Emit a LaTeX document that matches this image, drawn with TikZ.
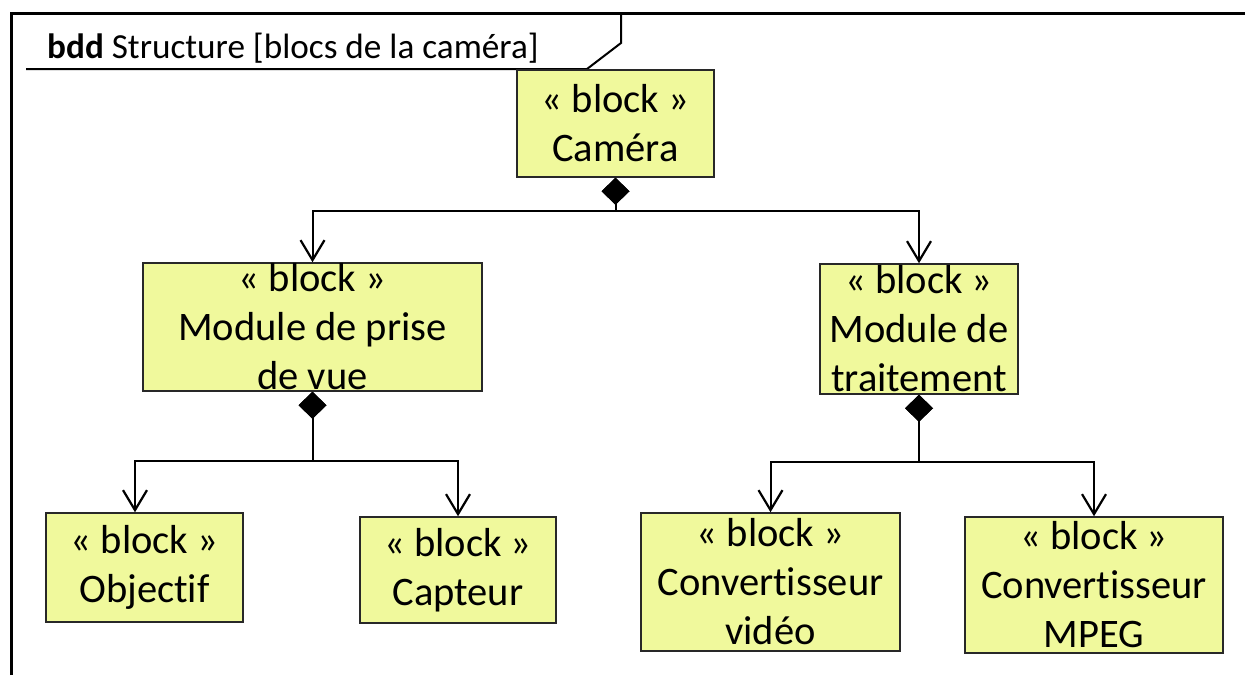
\documentclass[tikz,border=0pt]{standalone}
\usepackage{fontspec}
\setmainfont{Carlito}[Ligatures=NoCommon]
\usetikzlibrary{arrows.meta}
\definecolor{blockfill}{RGB}{240,249,156}
\definecolor{blockline}{RGB}{40,40,40}
\begin{document}
\begin{tikzpicture}[x=1pt,y=-1pt,
  block/.style={draw=blockline, line width=1.5pt, fill=blockfill, inner sep=0pt},
  blocktext/.style={font=\fontsize{40.5}{49}\selectfont, align=center, inner sep=0pt},
  comp/.style={line width=2pt,
    {Diamond[length=27pt,width=28pt]}-{Straight Barb[length=20pt,width=24pt,line width=2.2pt]}},
  frameline/.style={line width=3pt},
  headline/.style={line width=2pt}
]
\useasboundingbox (0,0) rectangle (1245,675);

% diagram frame and its header tab
\coordinate (ftl) at (11,13);
\coordinate (ftr) at (1245,13);
\coordinate (fbl) at (11,675);
\draw[frameline] (fbl) -- (ftl) -- (ftr);
\coordinate (h1) at (26,69);
\coordinate (h2) at (587,69);
\coordinate (h3) at (621,43);
\coordinate (h4) at (621,13);
\draw[headline] (h1) -- (h2) -- (h3) -- (h4);
\node[anchor=base west, font=\fontsize{35.2}{40}\selectfont, inner sep=0pt] (title) at (47,58)
  {\textbf{bdd} Structure [blocs de la caméra]};

% blocks
\node[block, minimum width=197pt, minimum height=107pt,
  label={[blocktext]center:{« block »\\Caméra}}] (cam) at (615.5,123.5) {};
\node[block, minimum width=339pt, minimum height=128pt,
  label={[blocktext]center:{« block »\\Module de prise\\de vue}}] (mpv) at (312.5,327) {};
\node[block, minimum width=198pt, minimum height=130pt,
  label={[blocktext]center:{« block »\\Module de\\traitement}}] (mt) at (919,329) {};
\node[block, minimum width=197pt, minimum height=109pt,
  label={[blocktext]center:{« block »\\Objectif}}] (obj) at (144.5,567.5) {};
\node[block, minimum width=196pt, minimum height=106pt,
  label={[blocktext]center:{« block »\\Capteur}}] (cap) at (458,570) {};
\node[block, minimum width=259pt, minimum height=138pt,
  label={[blocktext]center:{« block »\\Convertisseur\\vidéo}}] (cv) at (770.5,582) {};
\node[block, minimum width=258pt, minimum height=136pt,
  label={[blocktext]center:{« block »\\Convertisseur\\MPEG}}] (cm) at (1094,585) {};

% composition links
\coordinate (bus1) at (0,211);
\coordinate (bus2) at (0,461);
\coordinate (bus3) at (0,462);
\coordinate (objin) at ([xshift=-9.5pt]obj.north);

\draw[comp] (cam.south) -- (cam.south |- bus1) -| (mpv.north);
\draw[comp] (cam.south) -- (cam.south |- bus1) -| (mt.north);
\draw[comp] (mpv.south) -- (mpv.south |- bus2) -| (objin);
\draw[comp] (mpv.south) -- (mpv.south |- bus2) -| (cap.north);
\draw[comp] (mt.south) -- (mt.south |- bus3) -| (cv.north);
\draw[comp] (mt.south) -- (mt.south |- bus3) -| (cm.north);
\end{tikzpicture}
\end{document}
